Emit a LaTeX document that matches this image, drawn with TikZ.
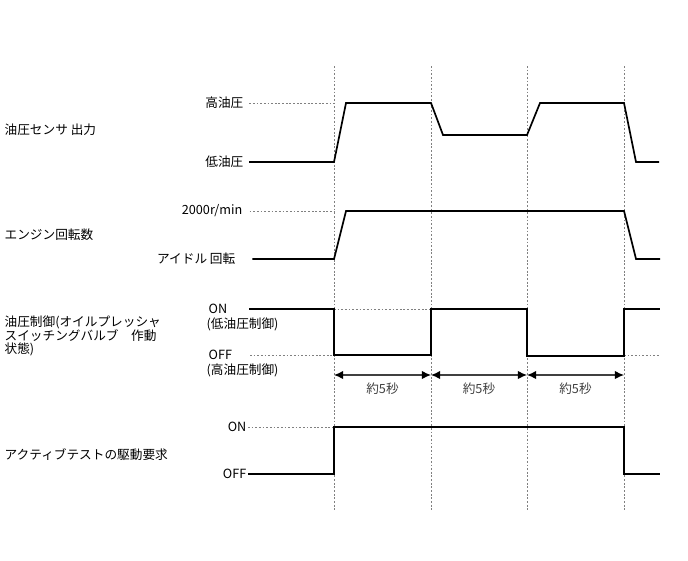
\documentclass[tikz,border=0pt]{standalone}
\usepackage{fontspec}
\newfontfamily\jpfont{Noto Sans CJK JP}
\usetikzlibrary{positioning, arrows.meta}

\begin{document}
\begin{tikzpicture}
	[x=0.025cm, y=-0.025cm,
	signal/.style={line width=1.2pt, black},
	guide/.style={line width=0.6pt, gray, dash pattern=on 1.3pt off 1.3pt},
	span/.style={{Latex[length=6.5pt,width=6pt,black]}-{Latex[length=6.5pt,width=6pt,black]}, line width=0.9pt, gray!50!black},
	lbl/.style={font=\jpfont\fontsize{9}{9.3}\selectfont, inner sep=1pt, align=left}
	]
	\useasboundingbox (0,0) rectangle (688,560);

	% Time marks
	\foreach \x in {334,431,527,624}
		\draw[guide] (\x,66) -- (\x,512);

	% Oil pressure sensor
	\node[lbl, anchor=west] (sensor) at (3,130) {油圧センサ 出力};
	\node[lbl, anchor=east] (hipress) at (245,103) {高油圧};
	\node[lbl, anchor=east] (lopress) at (245,162) {低油圧};
	\draw[guide] ([xshift=3pt]hipress.east) -- (334,103);
	\draw[signal] ([xshift=3pt]lopress.east) -- (334,162) -- (346,103) -- (431,103) -- (443,135)
		-- (527,135) -- (540,103) -- (624,103) -- (636,162) -- (659,162);

	% Engine speed
	\node[lbl, anchor=west] (engine) at (3,235) {エンジン回転数};
	\node[lbl, anchor=east] (rpmhi) at (244,211) {2000r/min};
	\node[lbl, anchor=east] (idle) at (237,259) {アイドル 回転};
	\draw[guide] ([xshift=4pt]rpmhi.east) -- (334,211);
	\draw[signal] ([xshift=11pt]idle.east) -- (334,259) -- (346,211) -- (624,211) -- (636,259) -- (660,259);

	% Oil pressure control
	\node[lbl, anchor=west] (valve) at (3,336) {油圧制御(オイルプレッシャ\\スイッチングバルブ\quad 作動\\状態)};
	\node[lbl, anchor=west] (valveon) at (207,309) {ON};
	\node[lbl, anchor=north west] (lowctrl) at (205,316) {(低油圧制御)};
	\node[lbl, anchor=west] (valveoff) at (207,355) {OFF};
	\node[lbl, anchor=north west] (highctrl) at (205,362) {(高油圧制御)};
	\draw[guide] (334,309) -- (431,309);
	\draw[guide] (250,355) -- (334,355);
	\draw[guide] (624,355) -- (660,355);
	\draw[signal] (249,309) -- (334,309) -- (334,355) -- (431,355) -- (431,309) -- (527,309)
		-- (527,356) -- (624,356) -- (624,309) -- (660,309);

	% Durations
	\coordinate (m1) at (334,375);
	\coordinate (m2) at (431,375);
	\coordinate (m3) at (527,375);
	\coordinate (m4) at (624,375);
	\draw[span] (m1) -- (m2) node[midway, below=4pt, lbl] (d1) {約5秒};
	\draw[span] (m2) -- (m3) node[midway, below=4pt, lbl] (d2) {約5秒};
	\draw[span] (m3) -- (m4) node[midway, below=4pt, lbl] (d3) {約5秒};

	% Active test request
	\node[lbl, anchor=west] (request) at (3,455) {アクティブテストの駆動要求};
	\node[lbl, anchor=east] (reqon) at (248,427) {ON};
	\node[lbl, anchor=east] (reqoff) at (248,474) {OFF};
	\draw[guide] (reqon.east) -- (334,427);
	\draw[signal] (reqoff.east) -- (334,474) -- (334,427) -- (624,427) -- (624,474) -- (660,474);
\end{tikzpicture}
\end{document}
